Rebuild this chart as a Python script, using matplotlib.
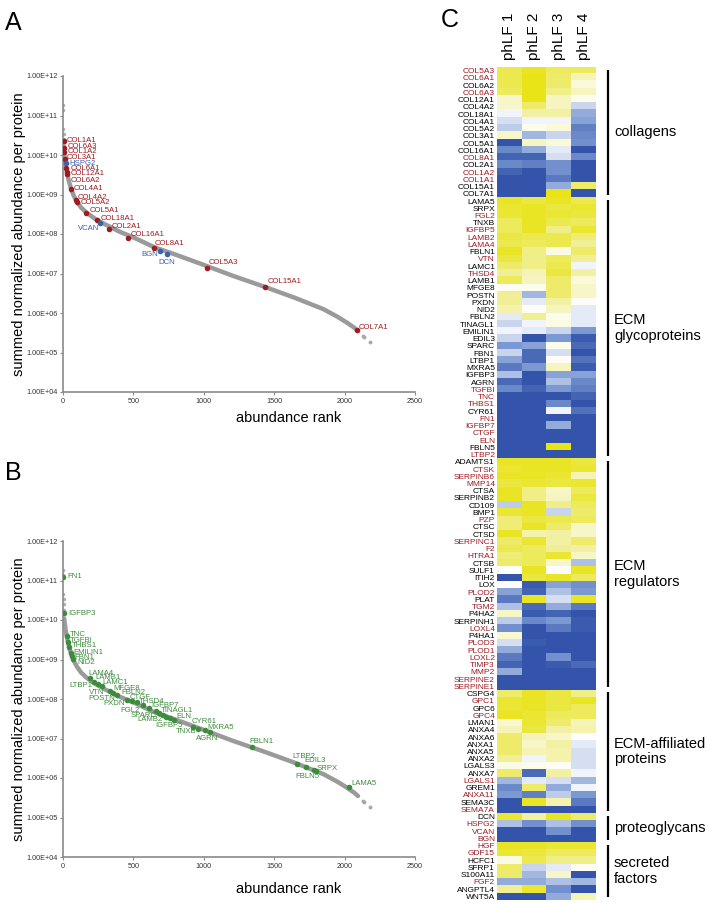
import numpy as np
import matplotlib.pyplot as plt
from matplotlib.colors import LinearSegmentedColormap
from matplotlib.ticker import FixedLocator, FuncFormatter, NullLocator
import matplotlib.transforms as mtransforms

plt.rcParams['font.family'] = ['Liberation Sans', 'DejaVu Sans']

# ---- background curve (all proteins) ----
curve_rank = [8, 12, 16, 20, 30, 40, 55, 75, 100, 130, 170, 230, 300, 400, 500,
              650, 800, 1000, 1200, 1440, 1650, 1850, 1950, 2020, 2070, 2095]
curve_abund = [1.1e10, 8.5e9, 6.5e9, 5.2e9, 3.4e9, 2.3e9, 1.5e9, 9.5e8, 6.5e8, 4.6e8,
               3.4e8, 2.4e8, 1.75e8, 1.15e8, 8.2e7, 4.6e7, 3.0e7, 1.65e7, 8.9e6,
               4.5e6, 2.4e6, 1.25e6, 8.0e5, 5.6e5, 4.2e5, 3.5e5]
top_rank = [1, 2, 3, 4, 5, 6]
top_abund = [1.85e11, 1.35e11, 4.6e10, 3.5e10, 2.5e10, 1.8e10]
tail_rank = [2130, 2140, 2180]
tail_abund = [2.6e5, 2.4e5, 1.85e5]

# ---- panel A: collagens (red) and proteoglycans (blue) ----
a_names = ['COL1A1', 'COL6A3', 'COL1A2', 'COL3A1', 'HSPG2', 'COL6A1', 'COL12A1',
           'COL6A2', 'COL4A1', 'COL4A2', 'COL5A2', 'COL5A1', 'COL18A1', 'VCAN',
           'COL2A1', 'COL16A1', 'COL8A1', 'BGN', 'DCN', 'COL5A3', 'COL15A1', 'COL7A1']
a_rank = [5, 8, 10, 14, 18, 22, 25, 28, 57, 93, 100, 163, 238, 262, 326, 461,
          643, 689, 739, 1026, 1436, 2088]
a_abund = [2.2e10, 1.5e10, 1.2e10, 8.0e9, 6.2e9, 4.6e9, 3.8e9, 3.3e9, 1.4e9, 7.2e8,
           6.3e8, 3.5e8, 2.2e8, 1.95e8, 1.35e8, 8.1e7, 4.5e7, 3.8e7, 3.1e7, 1.4e7,
           4.5e6, 3.7e5]
a_proteoglycans = ['HSPG2', 'VCAN', 'BGN', 'DCN']

# ---- panel B: ECM glycoproteins ----
b_names = ['FN1', 'IGFBP3', 'TNC', 'TGFBI', 'THBS1', 'EMILIN1', 'FBN1', 'NID2',
           'LAMA4', 'LAMB1', 'LTBP1', 'LAMC1', 'MFGE8', 'VTN', 'POSTN', 'FBLN2',
           'CTGF', 'PXDN', 'THSD4', 'FGL2', 'IGFBP7', 'SPARC', 'TINAGL1', 'LAMB2',
           'IGFBP5', 'ELN', 'CYR61', 'TNXB', 'MXRA5', 'AGRN', 'FBLN1', 'LTBP2',
           'EDIL3', 'FBLN5', 'SRPX', 'LAMA5']
b_rank = [2, 9, 26, 36, 43, 55, 64, 73, 190, 223, 247, 277, 356, 334, 384, 455,
          526, 490, 569, 611, 661, 683, 711, 732, 761, 791, 922, 960, 1010, 1045,
          1342, 1664, 1726, 1782, 1797, 2031]
b_abund = [1.26e11, 1.5e10, 3.9e9, 2.7e9, 2.1e9, 1.5e9, 1.26e9, 1.05e9, 3.4e8, 2.7e8,
           2.4e8, 2.1e8, 1.38e8, 1.55e8, 1.23e8, 9.5e7, 8.3e7, 9.1e7, 6.9e7, 5.9e7,
           4.9e7, 4.4e7, 4.0e7, 3.6e7, 3.3e7, 3.0e7, 2.0e7, 1.7e7, 1.6e7, 1.45e7,
           6.0e6, 2.3e6, 1.9e6, 1.6e6, 1.5e6, 6.0e5]

# label offsets in pixels (dx, dy, ha)
a_offsets = [(3, 1, 'left'), (3, 2, 'left'), (3, 0, 'left'), (2, 1, 'left'),
             (4, 0, 'left'), (5, 0, 'left'), (4, -2, 'left'), (4, -6, 'left'),
             (3, 0, 'left'), (2, 3, 'left'), (4, 0, 'left'), (4, 2, 'left'),
             (4, 2, 'left'), (-1, -6, 'right'), (3, 2, 'left'), (3, 3, 'left'),
             (1, 4, 'left'), (-2, -4, 'right'), (-9, -8, 'left'), (1, 5, 'left'),
             (2, 6, 'left'), (2, 3, 'left')]
b_offsets = [(4, 0, 'left'), (4, 0, 'left'), (3, 2, 'left'), (2, 2, 'left'),
             (3, 1, 'left'), (3, 0, 'left'), (2, -2, 'left'), (4, -4, 'left'),
             (-1, 5, 'left'), (1, 4, 'left'), (-5, -2, 'right'), (0, 4, 'left'),
             (0, 5, 'left'), (-6, -1, 'right'), (-2, -3, 'right'), (-6, 7, 'left'),
             (-7, 5, 'left'), (-7, -3, 'right'), (-4, 4, 'left'), (-9, -2, 'right'),
             (-5, 6, 'left'), (-3, -2, 'right'), (-2, 4, 'left'), (-3, -3, 'right'),
             (-15, -7, 'left'), (2, 3, 'left'), (-1, 5, 'left'), (-2, -2, 'right'),
             (2, 3, 'left'), (-14, -6, 'left'), (-3, 6, 'left'), (-5, 7, 'left'),
             (-2, 6, 'left'), (-19, -7, 'left'), (1, 3, 'left'), (2, 3, 'left')]

# ---- heatmap (C) ----
samples = ['phLF 1', 'phLF 2', 'phLF 3', 'phLF 4']

collagens = ['COL5A3', 'COL6A1', 'COL6A2', 'COL6A3', 'COL12A1', 'COL4A2', 'COL18A1',
             'COL4A1', 'COL5A2', 'COL3A1', 'COL5A1', 'COL16A1', 'COL8A1', 'COL2A1',
             'COL1A2', 'COL1A1', 'COL15A1', 'COL7A1']
collagens_z = [[0.8, 0.95, 0.75, 0.75], [0.8, 1.0, 0.7, 0.4], [0.8, 1.0, 0.7, 0.2],
               [0.75, 1.0, 0.6, 0.35], [0.3, 1.0, 0.35, 0.1], [0.3, 0.7, 0.35, -0.2],
               [-0.05, 0.5, 0.5, -0.4], [-0.15, -0.05, -0.05, -0.45],
               [-0.25, 0.1, 0.2, -0.65], [0.3, -0.35, -0.2, -0.6],
               [-0.95, 0.35, 0.2, -0.55], [-0.6, -0.4, -0.1, -0.95],
               [-0.85, -0.85, -0.15, -0.6], [-0.6, -0.65, -0.55, -0.95],
               [-0.85, -0.95, -0.55, -0.95], [-0.95, -0.95, -0.7, -0.95],
               [-0.95, -0.95, -0.4, 0.7], [-0.95, -0.95, 1.0, -0.95]]

glycoproteins = ['LAMA5', 'SRPX', 'FGL2', 'TNXB', 'IGFBP5', 'LAMB2', 'LAMA4', 'FBLN1',
                 'VTN', 'LAMC1', 'THSD4', 'LAMB1', 'MFGE8', 'POSTN', 'PXDN', 'NID2',
                 'FBLN2', 'TINAGL1', 'EMILIN1', 'EDIL3', 'SPARC', 'FBN1', 'LTBP1',
                 'MXRA5', 'IGFBP3', 'AGRN', 'TGFBI', 'TNC', 'THBS1', 'CYR61', 'FN1',
                 'IGFBP7', 'CTGF', 'ELN', 'FBLN5', 'LTBP2']
glycoproteins_z = [[0.95, 0.85, 0.95, 0.8], [0.9, 0.95, 0.85, 0.9], [0.9, 0.95, 0.9, 0.85],
                   [0.75, 0.95, 0.8, 0.75], [0.75, 0.95, 0.6, 0.9], [0.85, 0.8, 0.8, 0.65],
                   [0.8, 0.75, 0.8, 0.55], [0.95, 0.6, 0.15, 0.7], [0.85, 0.6, 0.75, 0.55],
                   [0.7, 0.6, 0.8, -0.05], [0.55, 0.4, 0.85, 0.5], [0.75, 0.35, 0.7, 0.2],
                   [0.05, 0.1, 0.7, 0.3], [0.55, -0.35, 0.7, 0.3], [0.55, -0.1, 0.5, 0.05],
                   [0.45, 0.05, 0.35, -0.1], [-0.1, 0.55, 0.1, -0.1],
                   [-0.2, -0.05, 0.15, -0.1], [-0.05, -0.1, -0.2, -0.5],
                   [-0.2, -0.95, -0.5, -0.9], [-0.5, -0.45, 0.1, -0.8],
                   [-0.2, -0.8, -0.15, -0.95], [-0.45, -0.8, 0.05, -0.75],
                   [-0.7, -0.5, 0.35, -0.9], [-0.3, -0.95, -0.45, -0.45],
                   [-0.8, -0.95, -0.3, -0.6], [-0.6, -0.85, -0.5, -0.65],
                   [-0.95, -0.95, -0.95, -0.85], [-0.95, -0.95, -0.6, -0.95],
                   [-0.95, -0.95, -0.05, -0.75], [-0.95, -0.95, -0.95, -0.95],
                   [-0.95, -0.95, -0.4, -0.95], [-0.95, -0.95, -0.95, -0.95],
                   [-0.95, -0.95, -0.95, -0.95], [-0.95, -0.95, 1.0, -0.95],
                   [-0.95, -0.95, -0.95, -0.95]]

regulators = ['ADAMTS1', 'CTSK', 'SERPINB6', 'MMP14', 'CTSA', 'SERPINB2', 'CD109',
              'BMP1', 'PZP', 'CTSC', 'CTSD', 'SERPINC1', 'F2', 'HTRA1', 'CTSB', 'SULF1',
              'ITIH2', 'LOX', 'PLOD2', 'PLAT', 'TGM2', 'P4HA2', 'SERPINH1', 'LOXL4',
              'P4HA1', 'PLOD3', 'PLOD1', 'LOXL2', 'TIMP3', 'MMP2', 'SERPINE2', 'SERPINE1']
regulators_z = [[0.95, 0.95, 0.95, 0.85], [0.9, 0.95, 0.95, 0.9], [0.95, 0.95, 0.9, 0.4],
                [0.85, 0.9, 0.85, 0.9], [0.95, 0.6, 0.3, 0.75], [0.95, 0.6, 0.35, 0.85],
                [-0.25, 0.95, 0.6, 0.75], [0.9, 0.95, -0.2, 0.7], [0.65, 0.85, 0.8, 0.75],
                [0.65, 0.95, 0.7, 0.3], [0.95, 0.45, 0.5, 0.3], [0.7, 0.9, 0.5, 0.7],
                [0.8, 0.75, 0.55, 0.5], [0.65, 0.75, 0.9, 0.3], [0.7, 0.75, 0.3, -0.3],
                [0.0, 0.95, 0.0, 0.95], [-0.95, 0.85, 0.95, 0.75],
                [0.0, -0.9, -0.45, -0.55], [-0.45, -0.85, -0.3, -0.5],
                [-0.7, 0.95, -0.15, 0.95], [-0.3, -0.8, -0.4, -0.7],
                [0.3, -0.9, -0.85, -0.95], [-0.25, -0.6, -0.5, -0.9],
                [-0.55, -0.95, -0.7, -0.9], [0.25, -0.95, -0.95, -0.95],
                [-0.15, -0.9, -0.95, -0.95], [-0.4, -0.95, -0.95, -0.95],
                [-0.7, -0.95, -0.55, -0.95], [-0.85, -0.95, -0.9, -0.8],
                [-0.4, -0.95, -0.95, -0.95], [-0.95, -0.95, -0.95, -0.95],
                [-0.95, -0.95, -0.95, -0.95]]

affiliated = ['CSPG4', 'GPC1', 'GPC6', 'GPC4', 'LMAN1', 'ANXA4', 'ANXA6', 'ANXA1',
              'ANXA5', 'ANXA2', 'LGALS3', 'ANXA7', 'LGALS1', 'GREM1', 'ANXA11',
              'SEMA3C', 'SEMA7A']
affiliated_z = [[0.7, 0.95, 0.85, 0.6], [0.9, 0.95, 0.85, 0.95], [0.9, 0.95, 0.85, 0.75],
                [0.95, 0.9, 0.75, 0.75], [0.25, 0.9, 0.7, 0.4], [0.4, 0.85, 0.5, 0.45],
                [0.7, 0.4, 0.3, 0.0], [0.7, 0.3, 0.5, -0.1], [0.7, 0.4, 0.45, -0.15],
                [0.55, -0.05, 0.45, -0.15], [0.15, 0.1, 0.05, -0.15],
                [0.7, -0.8, 0.5, -0.05], [-0.35, -0.1, -0.15, -0.35],
                [-0.6, 0.7, -0.4, -0.05], [-0.5, -0.65, -0.25, -0.5],
                [-0.95, 0.95, 0.45, -0.7], [-0.95, -0.95, -0.95, -0.95]]

proteoglycans = ['DCN', 'HSPG2', 'VCAN', 'BGN']
proteoglycans_z = [[0.9, 0.5, 0.95, 0.7], [-0.3, -0.55, -0.3, -0.55],
                   [-0.95, -0.95, -0.55, -0.95], [-0.95, -0.95, -0.95, -0.95]]

secreted = ['HGF', 'GDF15', 'HCFC1', 'SFRP1', 'S100A11', 'FGF2', 'ANGPTL4', 'WNT5A']
secreted_z = [[0.95, 0.95, 0.9, 0.9], [0.9, 0.85, 0.75, 0.75], [0.15, 0.8, 0.6, 0.6],
              [0.7, -0.2, -0.1, 0.05], [0.7, -0.35, 0.3, -0.95],
              [-0.4, -0.4, -0.3, -0.35], [0.55, 0.9, -0.55, -0.95],
              [-0.95, -0.95, -0.4, 0.4]]

group_names = ['collagens', 'ECM\nglycoproteins', 'ECM\nregulators',
               'ECM-affiliated\nproteins', 'proteoglycans', 'secreted\nfactors']

red_genes = ['COL5A3', 'COL6A1', 'COL6A3', 'COL8A1', 'COL1A2', 'COL1A1', 'FGL2',
             'IGFBP5', 'LAMB2', 'LAMA4', 'VTN', 'THSD4', 'TGFBI', 'TNC', 'THBS1', 'FN1',
             'IGFBP7', 'CTGF', 'ELN', 'LTBP2', 'CTSK', 'SERPINB6', 'MMP14', 'PZP',
             'SERPINC1', 'F2', 'HTRA1', 'PLOD2', 'TGM2', 'LOXL4', 'PLOD3', 'PLOD1',
             'LOXL2', 'TIMP3', 'MMP2', 'SERPINE2', 'SERPINE1', 'GPC1', 'GPC4', 'LGALS1',
             'ANXA11', 'SEMA7A', 'HSPG2', 'VCAN', 'BGN', 'HGF', 'GDF15', 'FGF2']

RED = '#9E1B22'
BLUE = '#3A62B0'
GREEN = '#3D8B3D'
GREY = '#9A9A9A'


def style_axis(ax, xlab_y):
    ax.set_yscale('log')
    ax.set_ylim(1e4, 1e12)
    ax.set_xlim(0, 2500)
    ax.yaxis.set_major_locator(FixedLocator([10.0 ** k for k in range(4, 13)]))
    ax.yaxis.set_minor_locator(NullLocator())
    ax.yaxis.set_major_formatter(FuncFormatter(lambda v, p: '1.00E+%02d' % round(np.log10(v))))
    ax.set_xticks([0, 500, 1000, 1500, 2000, 2500])
    for s in ['top', 'right']:
        ax.spines[s].set_visible(False)
    for s in ['left', 'bottom']:
        ax.spines[s].set_color('#8a8a8a')
        ax.spines[s].set_linewidth(1.2)
    ax.tick_params(labelsize=5.2, length=2, color='#8a8a8a', pad=2, labelcolor='#333333')
    ax.set_ylabel('summed normalized abundance per protein', fontsize=10.5)
    ax.yaxis.set_label_coords(-0.105, 0.5)
    ax.set_xlabel('abundance rank', fontsize=10.5)
    ax.xaxis.set_label_coords(0.64, xlab_y)


def draw_curve(ax):
    ax.plot(curve_rank, curve_abund, color=GREY, lw=3.2, solid_capstyle='round', zorder=1)
    ax.plot(top_rank, top_abund, 'o', color='#b0b0b0', ms=2.6, mec='none', zorder=1)
    ax.plot(tail_rank, tail_abund, 'o', color='#a8a8a8', ms=2.8, mec='none', zorder=1)


def draw_labels(ax, names, ranks, abunds, colors, offsets):
    for n, r, v, c, (dx, dy, ha) in zip(names, ranks, abunds, colors, offsets):
        ax.plot(r, v, 'o', color=c, ms=4, mec='none', zorder=3)
        ax.annotate(n, (r, v), xytext=(dx, dy), textcoords='offset pixels',
                    ha=ha, va='center', fontsize=5.6, color=c, zorder=4)


fig = plt.figure(figsize=(7.2, 9.06), dpi=100)

# panel A
axA = fig.add_axes([63 / 720, 1 - 392 / 906, 352 / 720, 316 / 906])
style_axis(axA, -0.06)
draw_curve(axA)
a_colors = [BLUE if n in a_proteoglycans else RED for n in a_names]
draw_labels(axA, a_names, a_rank, a_abund, a_colors, a_offsets)

# panel B
axB = fig.add_axes([63 / 720, 1 - 857 / 906, 352 / 720, 316 / 906])
style_axis(axB, -0.08)
draw_curve(axB)
draw_labels(axB, b_names, b_rank, b_abund, [GREEN] * len(b_names), b_offsets)

fig.text(13 / 720, 1 - 23 / 906, 'A', fontsize=18, ha='center', va='center')
fig.text(13 / 720, 1 - 473 / 906, 'B', fontsize=18, ha='center', va='center')
fig.text(450 / 720, 1 - 20 / 906, 'C', fontsize=18, ha='center', va='center')

# panel C heatmap
groups = [collagens, glycoproteins, regulators, affiliated, proteoglycans, secreted]
groups_z = [collagens_z, glycoproteins_z, regulators_z, affiliated_z, proteoglycans_z, secreted_z]
genes = sum(groups, [])
z = np.vstack([np.array(g) for g in groups_z])

cmap = LinearSegmentedColormap.from_list(
    'by', [(0.0, '#2C4DA6'), (0.25, '#7A98D2'), (0.5, '#FFFFFF'),
           (0.75, '#F3F1A4'), (1.0, '#E8E417')])

axC = fig.add_axes([497 / 720, 1 - 900 / 906, 99 / 720, 833 / 906])
axC.imshow(z, cmap=cmap, vmin=-1, vmax=1, aspect='auto', interpolation='nearest',
           extent=(-0.5, len(samples) - 0.5, len(genes) - 0.5, -0.5))
axC.set_yticks(range(len(genes)))
axC.set_yticklabels(genes, fontsize=6)
for lab in axC.get_yticklabels():
    lab.set_color(RED if lab.get_text() in red_genes else 'black')
axC.xaxis.tick_top()
axC.set_xticks(range(len(samples)))
axC.set_xticklabels(samples, rotation=90, fontsize=11)
axC.tick_params(length=0, pad=1.5)
axC.tick_params(axis='x', pad=5)
for s in axC.spines.values():
    s.set_visible(False)

trans = mtransforms.blended_transform_factory(axC.transAxes, axC.transData)
start = -0.5
for g, name in zip(groups, group_names):
    end = start + len(g)
    axC.plot([1.121, 1.121], [start + 0.35, end - 0.35], color='black', lw=1.6,
             transform=trans, clip_on=False, solid_capstyle='butt')
    axC.text(1.182, (start + end) / 2, name, transform=trans, fontsize=10.5,
             va='center', ha='left', linespacing=1.15)
    start = end

fig.savefig('out.png', dpi=100)
